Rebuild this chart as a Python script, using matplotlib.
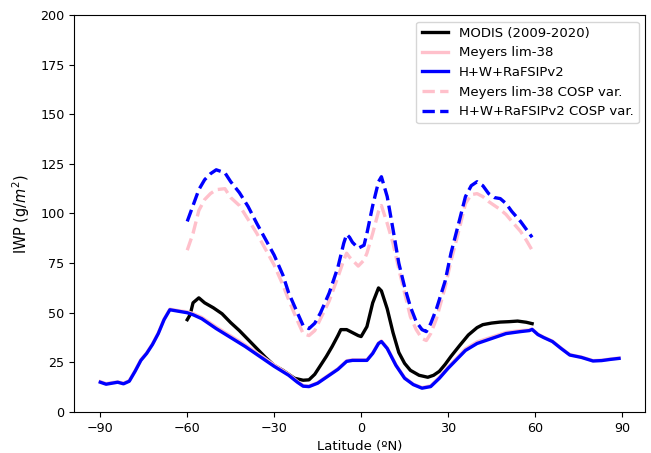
import matplotlib
matplotlib.use("Agg")
import matplotlib.pyplot as plt

# MODIS (2009-2020)
lat_modis = [-60, -59, -58, -56, -54, -51, -48, -45, -42, -39, -36, -33, -30, -27, -25,
             -23, -20, -18, -16, -14, -12, -10, -8, -7, -5, -3, -1, 0, 2, 4, 6, 7, 9, 11,
             13, 15, 17, 20, 23, 25, 27, 29, 31, 34, 37, 40, 42, 45, 48, 51, 54, 57, 59]
iwp_modis = [46.5, 49, 55, 57.5, 55, 52.5, 49.5, 45, 41, 36.5, 32, 27.5, 23.5, 21, 19,
             17, 16, 16.2, 19, 23.5, 28, 33, 38.5, 41.5, 41.5, 40, 38.5, 38, 43, 55, 62.5, 61, 52, 40,
             30, 24.5, 21, 18.5, 17.5, 18.5, 20.5, 24, 28, 33.5, 38.8, 42.5, 44, 44.8, 45.3, 45.5, 45.8, 45.2, 44.5]

# solid lines, full latitude range
lat_full = [-90, -88, -86, -84, -82, -80, -78, -76, -74, -72, -70, -68, -66, -64, -62, -60,
            -58, -55, -50, -45, -40, -35, -30, -25, -22, -20, -18, -15, -12, -8, -5, -3, 0,
            2, 4, 6, 7, 9, 12, 15, 18, 21, 24, 27, 30, 33, 36, 40, 45, 50, 55, 58, 59, 61,
            63, 66, 69, 72, 76, 80, 83, 86, 89]
iwp_hw = [15, 14, 14.5, 15, 14.2, 15.5, 20.5, 26, 29.5, 34, 39.5, 46.5, 51.5, 51, 50.5, 50,
          49, 47, 42, 37.5, 33, 28, 23, 18.5, 15, 13, 12.8, 14.5, 17.5, 21.5, 25.5, 26, 26,
          26, 29.5, 34.5, 35.5, 32, 23.5, 17, 13.8, 12, 12.8, 17, 22, 26.5, 31, 34.5, 37, 39.5, 40.5, 41, 41.6, 39,
          37.5, 35.5, 32, 28.7, 27.5, 25.7, 25.9, 26.5, 27]
iwp_meyers = [15.3, 14.3, 14.8, 15.2, 14.5, 15.8, 20.8, 26.3, 29.8, 34.3, 39.8, 46.8, 51.8, 51.3, 50.8, 50.5,
              49.6, 47.7, 42.8, 38.3, 33.8, 28.8, 23.7, 19, 15.4, 13.3, 13, 14.8, 17.8, 21.8, 25.8, 26.3, 26.3,
              26.3, 29.8, 34.8, 35.8, 32.3, 23.8, 17.3, 14, 12.3, 13.2, 17.5, 22.6, 27.2, 31.8, 35.3, 37.7, 40.1, 41, 41.3, 41.8, 39.2,
              37.7, 35.7, 32.2, 28.9, 27.7, 25.9, 26.1, 26.7, 27.2]

# COSP variants
lat_cosp = [-60, -58, -56, -54, -52, -50, -47, -45, -42, -39, -36, -33, -30, -27, -25, -22,
            -20, -18, -16, -14, -11, -8, -6, -5, -4, -3, -1, 1, 2, 4, 6, 7, 9, 11, 13, 15,
            17, 19, 21, 22.5, 24, 26, 29, 31, 34, 36, 38, 40, 42, 44, 46, 48, 50, 52, 55, 57, 59]
iwp_hw_cosp = [96, 104, 112, 117, 120, 122, 120.5, 116, 110.5, 103.5, 95, 87, 79, 69, 60, 50,
               43.5, 42, 44.7, 50, 60, 73, 85, 89.5, 88, 85.5, 82.5, 84, 90, 104, 116, 118.5, 108.5, 92, 75, 63,
               53, 45.5, 41.5, 40.5, 44.5, 52, 66, 80, 97, 108.5, 114, 116, 114, 110, 108, 107.5, 105, 101, 96, 92, 88]
iwp_meyers_cosp = [81.5, 90, 101.5, 107, 110, 112, 112.5, 108, 104, 97, 90, 82, 74, 64, 56.5, 46,
                   39.5, 38.5, 41, 47, 56, 68, 76.5, 80, 78, 76.5, 73.5, 76.5, 80, 90, 101, 104, 95, 85, 72, 60,
                   48, 41.5, 37, 36, 39.5, 47, 63, 76, 93, 105, 109.5, 110, 108.5, 106, 104, 102, 99.5, 96, 91, 86.5, 81.5]

fig = plt.figure(figsize=(6.51, 4.53), dpi=100)
ax = fig.add_axes([0.114, 0.0905, 0.877, 0.8765])

ax.plot(lat_modis, iwp_modis, color="black", lw=2.4, label="MODIS (2009-2020)")
ax.plot(lat_full, iwp_meyers, color="pink", lw=2.4, label="Meyers lim-38")
ax.plot(lat_full, iwp_hw, color="blue", lw=2.4, label="H+W+RaFSIPv2")
ax.plot(lat_cosp, iwp_meyers_cosp, color="pink", lw=2.4, ls="--", label="Meyers lim-38 COSP var.")
ax.plot(lat_cosp, iwp_hw_cosp, color="blue", lw=2.4, ls="--", label="H+W+RaFSIPv2 COSP var.")

ax.set_ylim(0, 200)
ax.set_xlim(-99, 98)
ax.set_yticks(range(0, 201, 25))
ax.set_xticks(range(-90, 91, 30))
ax.tick_params(labelsize=9.2)
ax.set_xlabel("Latitude (ºN)", fontsize=9.5)
ax.set_ylabel("IWP (g/$m^2$)", fontsize=10.5, labelpad=6)
ax.legend(loc="upper right", fontsize=9.5)

plt.savefig("out.png", dpi=100)
